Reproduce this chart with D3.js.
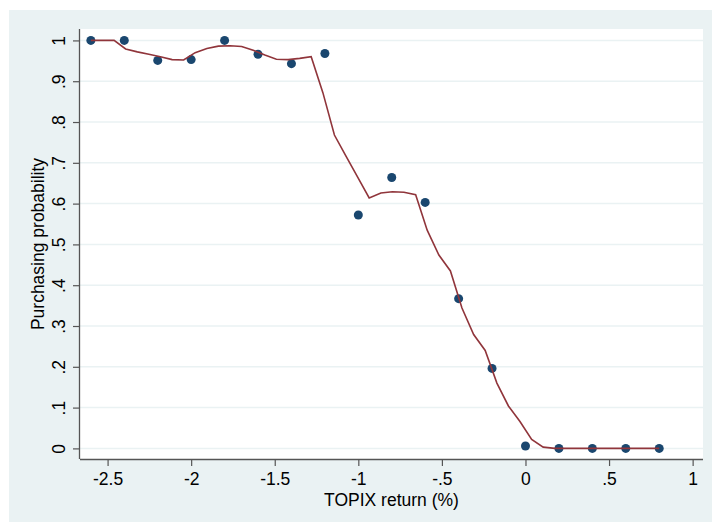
<!DOCTYPE html>
<html>
<head>
<meta charset="utf-8">
<script src="https://cdn.jsdelivr.net/npm/d3@7"></script>
<style>
  body { margin: 0; background: #fff; }
  text { font-family: "Liberation Sans", Arial, sans-serif; fill: #000; }
</style>
</head>
<body>
<div id="graph"></div>
<script>
// observed points
const pointX = [-2.6, -2.4, -2.2, -2.0, -1.8, -1.6, -1.4, -1.2, -1.0, -0.8, -0.6, -0.4, -0.2, 0, 0.2, 0.4, 0.6, 0.8];
const pointY = [1.0, 1.0, 0.951, 0.953, 1.0, 0.966, 0.943, 0.968, 0.572, 0.664, 0.603, 0.367, 0.196, 0.006, 0, 0, 0, 0];

// smoothed fit (50 grid points)
const fitX = [-2.6, -2.531, -2.461, -2.392, -2.322, -2.253, -2.184, -2.114, -2.045, -1.976,
  -1.906, -1.837, -1.767, -1.698, -1.629, -1.559, -1.49, -1.42, -1.351, -1.282,
  -1.212, -1.143, -1.073, -1.004, -0.935, -0.865, -0.796, -0.727, -0.657, -0.588,
  -0.518, -0.449, -0.38, -0.31, -0.241, -0.171, -0.102, -0.033, 0.037, 0.106,
  0.176, 0.245, 0.314, 0.384, 0.453, 0.522, 0.592, 0.661, 0.731, 0.8];
const fitY = [1.0, 1.0, 1.0, 0.979, 0.972, 0.966, 0.96, 0.953, 0.952, 0.97,
  0.98, 0.986, 0.987, 0.985, 0.976, 0.964, 0.954, 0.953, 0.956, 0.96,
  0.872, 0.768, 0.716, 0.665, 0.614, 0.626, 0.629, 0.628, 0.622, 0.535,
  0.474, 0.435, 0.344, 0.279, 0.24, 0.16, 0.104, 0.066, 0.022, 0.003,
  0, 0, 0, 0, 0, 0, 0, 0, 0, 0];

const xTicks = [-2.5, -2, -1.5, -1, -0.5, 0, 0.5, 1];
const xTickLabels = ["-2.5", "-2", "-1.5", "-1", "-.5", "0", ".5", "1"];
const yTicks = [0, 0.1, 0.2, 0.3, 0.4, 0.5, 0.6, 0.7, 0.8, 0.9, 1];
const yTickLabels = ["0", ".1", ".2", ".3", ".4", ".5", ".6", ".7", ".8", ".9", "1"];

const width = 712, height = 522;
const plot = { left: 80, right: 703, top: 29, bottom: 459 };
const fontSize = 17.5;

const svg = d3.select("#graph").append("svg")
  .attr("width", width)
  .attr("height", height);

// outer background
svg.append("rect")
  .attr("x", 9).attr("y", 10)
  .attr("width", width - 9).attr("height", height - 10)
  .attr("fill", "#eaf2f3");

svg.append("rect")
  .attr("x", plot.left).attr("y", plot.top)
  .attr("width", plot.right - plot.left).attr("height", plot.bottom - plot.top)
  .attr("fill", "#fff");

const x = d3.scaleLinear().domain([-2.665, 1.062]).range([plot.left, plot.right]);
const y = d3.scaleLinear().domain([-0.026, 1.028]).range([plot.bottom, plot.top]);

// grid lines
svg.append("g")
  .selectAll("line")
  .data(yTicks)
  .enter()
  .append("line")
  .attr("x1", plot.left).attr("x2", plot.right)
  .attr("y1", (d) => y(d)).attr("y2", (d) => y(d))
  .attr("stroke", "#eaf2f3")
  .attr("stroke-width", 1.5);

// axes
const xAxis = svg.append("g")
  .attr("transform", `translate(0,${plot.bottom})`)
  .call(d3.axisBottom(x).tickValues(xTicks).tickSize(7).tickPadding(7)
    .tickFormat((d, i) => xTickLabels[i]));
xAxis.select(".domain").attr("d", `M${plot.left},0.5H${plot.right}`);

const yAxis = svg.append("g")
  .attr("transform", `translate(${plot.left},0)`)
  .call(d3.axisLeft(y).tickValues(yTicks).tickSize(7)
    .tickFormat((d, i) => yTickLabels[i]));
yAxis.select(".domain").attr("d", `M-0.5,${plot.top}V${plot.bottom}`);

svg.selectAll(".domain").attr("stroke", "#555").attr("stroke-width", 1.3);
svg.selectAll(".tick line").attr("stroke", "#555").attr("stroke-width", 1.2);
xAxis.selectAll(".tick text")
  .attr("font-size", fontSize)
  .attr("font-family", "Liberation Sans, Arial, sans-serif")
  .attr("fill", "#000");
yAxis.selectAll(".tick text")
  .attr("font-size", fontSize)
  .attr("font-family", "Liberation Sans, Arial, sans-serif")
  .attr("fill", "#000")
  .attr("text-anchor", "middle")
  .attr("dy", "0")
  .attr("transform", "translate(-21,0) rotate(-90)")
  .attr("x", 0)
  .attr("y", 0)
  .attr("dominant-baseline", "central");

// axis titles
svg.append("text")
  .attr("x", (plot.left + plot.right) / 2)
  .attr("y", 506)
  .attr("text-anchor", "middle")
  .attr("font-size", fontSize)
  .text("TOPIX return (%)");

svg.append("text")
  .attr("transform", `translate(44,${(plot.top + plot.bottom) / 2}) rotate(-90)`)
  .attr("text-anchor", "middle")
  .attr("font-size", fontSize)
  .text("Purchasing probability");

// points
svg.append("g")
  .selectAll("circle")
  .data(pointX.map((d, i) => ({ x: d, y: pointY[i] })))
  .enter()
  .append("circle")
  .attr("cx", (d) => x(d.x))
  .attr("cy", (d) => y(d.y))
  .attr("r", 4.5)
  .attr("fill", "#1a476f");

// fitted line
svg.append("path")
  .datum(fitX.map((d, i) => ({ x: d, y: fitY[i] })))
  .attr("fill", "none")
  .attr("stroke", "#90353b")
  .attr("stroke-width", 1.6)
  .attr("d", d3.line().x((d) => x(d.x)).y((d) => y(d.y)));
</script>
</body>
</html>
